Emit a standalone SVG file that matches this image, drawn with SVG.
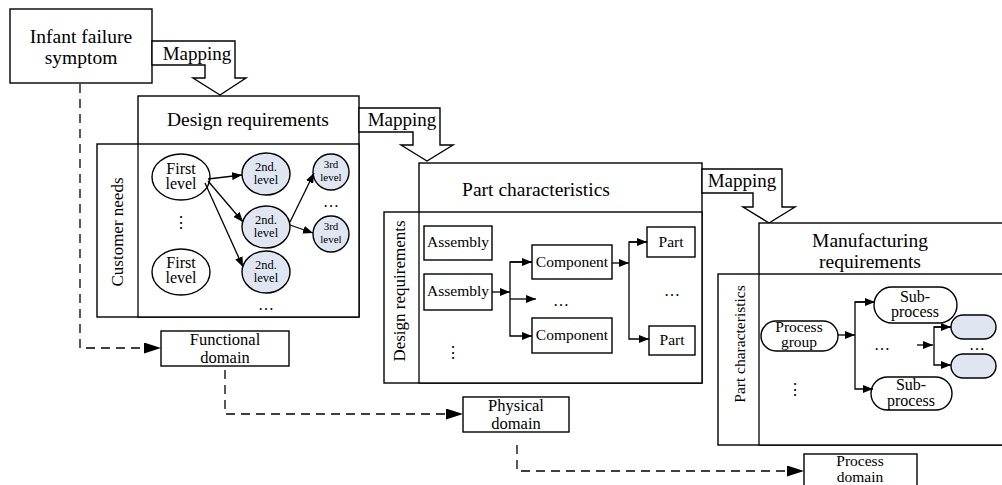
<svg xmlns="http://www.w3.org/2000/svg" width="1002" height="485" viewBox="0 0 1002 485" font-family="'Liberation Serif', 'DejaVu Serif', serif">
<style>
.b{fill:#fff;stroke:#000;stroke-width:1.4}
.n{fill:none;stroke:#000;stroke-width:1.3}
.bl{fill:#dfe6f2;stroke:#000;stroke-width:1.4}
.d{fill:none;stroke:#000;stroke-width:1.3;stroke-dasharray:9 6}
text{font-family:'Liberation Serif','DejaVu Serif',serif;fill:#000;text-anchor:middle}
.h{font-size:19.5px}
.map{font-size:19px}
.side{font-size:17px}
.dom{font-size:16.5px}
.t16{font-size:16px}
.t15{font-size:15.5px}
.t13{font-size:12.5px}
.t11{font-size:11px}
</style>
<defs>
<marker id="a" markerUnits="userSpaceOnUse" markerWidth="10" markerHeight="8" refX="10" refY="4" orient="auto"><path d="M0,0 L10,4 L0,8 z" fill="#000"/></marker>
<marker id="ad" markerUnits="userSpaceOnUse" markerWidth="17" markerHeight="11" refX="17" refY="5.5" orient="auto"><path d="M0,0 L17,5.5 L0,11 z" fill="#000"/></marker>
</defs>

<g id="infant">
<rect class="b" x="10" y="9" width="142" height="74"/>
<text class="h" x="81" y="43">Infant failure</text>
<text class="h" x="81" y="64">symptom</text>
</g>

<g id="map1">
<polygon class="b" points="152,41 235,41 235,78 246,78 220,95 193,78 205,78 205,65 152,65"/>
<text class="map" x="197" y="60">Mapping</text>
</g>

<g id="designreq">
<rect class="b" x="138" y="96" width="221" height="221"/>
<rect class="b" x="97" y="144" width="262" height="173"/>
<line class="n" x1="138" y1="144" x2="138" y2="317"/>
<text class="h" x="248" y="126">Design requirements</text>
<text class="side" transform="translate(123,232) rotate(-90)">Customer needs</text>
<ellipse class="b" cx="181" cy="177" rx="29" ry="23"/>
<text class="t16" x="181" y="174">First</text>
<text class="t16" x="181" y="189">level</text>
<text class="t16" x="181" y="228">⋮</text>
<ellipse class="b" cx="181" cy="272" rx="29" ry="23"/>
<text class="t16" x="181" y="268">First</text>
<text class="t16" x="181" y="283">level</text>
<ellipse class="bl" cx="266" cy="174" rx="24" ry="21"/>
<text class="t13" x="266" y="171">2nd.</text>
<text class="t13" x="266" y="184">level</text>
<ellipse class="bl" cx="266" cy="227" rx="24" ry="21"/>
<text class="t13" x="266" y="224">2nd.</text>
<text class="t13" x="266" y="237">level</text>
<ellipse class="bl" cx="266" cy="272" rx="24" ry="21"/>
<text class="t13" x="266" y="269">2nd.</text>
<text class="t13" x="266" y="282">level</text>
<ellipse class="bl" cx="331" cy="172" rx="18" ry="18"/>
<text class="t11" x="331" y="168">3rd</text>
<text class="t11" x="331" y="181">level</text>
<ellipse class="bl" cx="331" cy="234" rx="18" ry="18"/>
<text class="t11" x="331" y="230">3rd</text>
<text class="t11" x="331" y="243">level</text>
<text class="t16" x="331" y="207">…</text>
<text class="t16" x="266" y="310">…</text>
</g>

<g id="map2">
<polygon class="b" points="359,108 440,108 440,145 453,145 427,161 401,145 413,145 413,132 359,132"/>
<text class="map" x="402" y="126">Mapping</text>
</g>

<g id="partchar">
<rect class="b" x="419" y="163" width="283" height="220"/>
<rect class="b" x="384" y="212" width="318" height="171"/>
<line class="n" x1="419" y1="212" x2="419" y2="383"/>
<text class="h" x="536" y="196">Part characteristics</text>
<text class="side" transform="translate(405,291) rotate(-90)">Design requirements</text>
<rect class="b" x="424" y="226" width="68" height="34"/>
<text class="t15" x="458" y="247">Assembly</text>
<rect class="b" x="424" y="274" width="68" height="36"/>
<text class="t15" x="458" y="296">Assembly</text>
<text class="t16" x="453" y="358">⋮</text>
<rect class="b" x="532" y="245" width="80" height="34"/>
<text class="t15" x="572" y="267">Component</text>
<rect class="b" x="532" y="318" width="80" height="35"/>
<text class="t15" x="572" y="340">Component</text>
<text class="t16" x="561" y="306">…</text>
<rect class="b" x="647" y="227" width="48" height="30"/>
<text class="t15" x="671" y="247">Part</text>
<rect class="b" x="649" y="326" width="46" height="29"/>
<text class="t15" x="672" y="345">Part</text>
<text class="t16" x="672" y="296">…</text>
</g>

<g id="map3">
<polygon class="b" points="702,169 782,169 782,207 795,207 769,223 743,207 753,207 753,193 702,193"/>
<text class="map" x="742" y="187">Mapping</text>
</g>

<g id="manureq">
<rect class="b" x="759" y="223" width="260" height="222"/>
<rect class="b" x="718" y="274" width="301" height="171"/>
<line class="n" x1="759" y1="274" x2="759" y2="445"/>
<text class="h" x="870" y="247">Manufacturing</text>
<text class="h" x="870" y="268">requirements</text>
<text class="t15" transform="translate(745,344) rotate(-90)">Part characteristics</text>
<rect class="b" x="761" y="321" width="77" height="30" rx="15"/>
<text class="t15" x="799" y="332">Process</text>
<text class="t15" x="799" y="347">group</text>
<text class="t16" x="795" y="395">⋮</text>
<rect class="b" x="874" y="287" width="83" height="36" rx="18"/>
<text class="t16" x="915" y="302">Sub-</text>
<text class="t16" x="915" y="317">process</text>
<rect class="b" x="871" y="377" width="81" height="33" rx="16.5"/>
<text class="t16" x="911" y="390">Sub-</text>
<text class="t16" x="911" y="406">process</text>
<text class="t16" x="882" y="350">…</text>
<rect class="bl" x="951" y="315" width="45" height="24" rx="12"/>
<rect class="bl" x="951" y="354" width="45" height="24" rx="12"/>
<text class="t16" x="977" y="350">…</text>
</g>

<g id="funcdomain">
<rect class="b" x="161" y="331" width="128" height="35"/>
<text class="dom" x="225" y="345">Functional</text>
<text class="dom" x="225" y="363">domain</text>
</g>
<g id="physdomain">
<rect class="b" x="463" y="397" width="106" height="35"/>
<text class="dom" x="516" y="411">Physical</text>
<text class="dom" x="516" y="429">domain</text>
</g>
<g id="procdomain">
<rect class="b" x="804" y="454" width="113" height="40"/>
<text class="t15" x="860" y="466">Process</text>
<text class="t15" x="860" y="482">domain</text>
</g>

<g id="connectors">
<line class="n" x1="208" y1="179" x2="242" y2="175" marker-end="url(#a)"/>
<line class="n" x1="208" y1="181" x2="243" y2="222" marker-end="url(#a)"/>
<line class="n" x1="205" y1="183" x2="243" y2="267" marker-end="url(#a)"/>
<line class="n" x1="290" y1="222" x2="314" y2="173" marker-end="url(#a)"/>
<line class="n" x1="290" y1="225" x2="313" y2="233" marker-end="url(#a)"/>
<line class="n" x1="492" y1="292" x2="510" y2="292" marker-end="url(#a)"/>
<polyline class="n" points="532,262 510,262 510,336 532,336" marker-end="url(#a)"/>
<line class="n" x1="510" y1="262" x2="532" y2="262" marker-end="url(#a)"/>
<line class="n" x1="510" y1="299" x2="536" y2="299" marker-end="url(#a)"/>
<line class="n" x1="612" y1="263" x2="629" y2="263" marker-end="url(#a)"/>
<polyline class="n" points="647,242 629,242 629,339 649,339" marker-end="url(#a)"/>
<line class="n" x1="629" y1="242" x2="647" y2="242" marker-end="url(#a)"/>
<line class="n" x1="838" y1="335" x2="855" y2="335" marker-end="url(#a)"/>
<polyline class="n" points="875,302 855,302 855,389 873,389" marker-end="url(#a)"/>
<line class="n" x1="855" y1="302" x2="875" y2="302" marker-end="url(#a)"/>
<line class="n" x1="917" y1="345" x2="933" y2="345" marker-end="url(#a)"/>
<polyline class="n" points="951,327 934,327 934,365 951,365" marker-end="url(#a)"/>
<line class="n" x1="934" y1="327" x2="951" y2="327" marker-end="url(#a)"/>
<polyline class="d" points="80,84 80,348 161,348" marker-end="url(#ad)"/>
<polyline class="d" points="225,370 225,414 463,414" marker-end="url(#ad)"/>
<polyline class="d" points="517,445 517,471 804,471" marker-end="url(#ad)"/>
</g>
</svg>
